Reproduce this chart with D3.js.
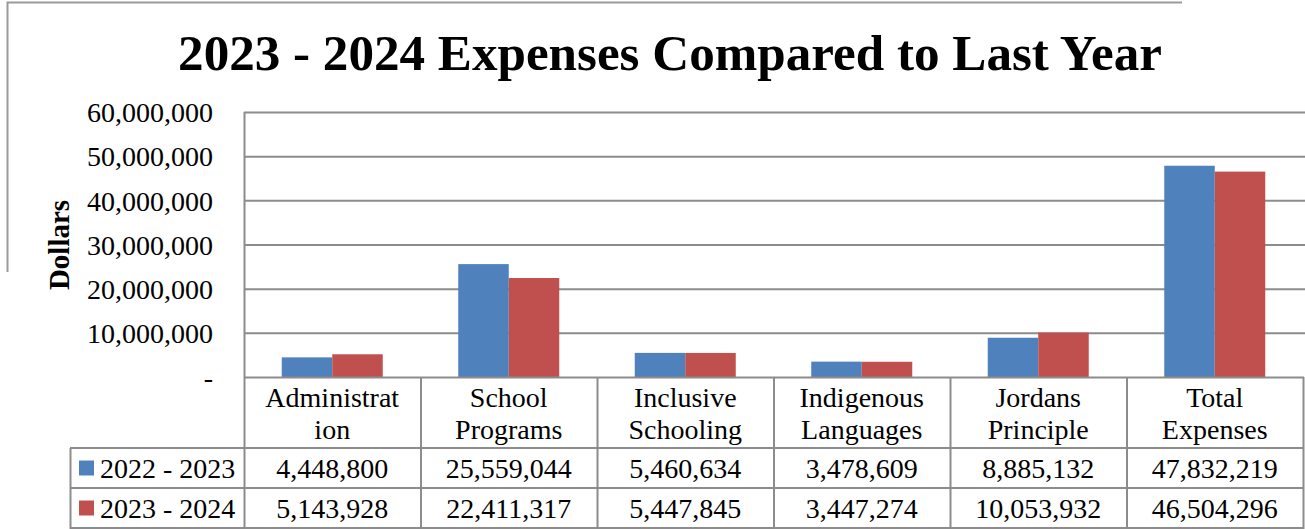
<!DOCTYPE html>
<html>
<head>
<meta charset="utf-8">
<script src="https://cdn.jsdelivr.net/npm/d3@7/dist/d3.min.js"></script>
<style>
  html, body { margin: 0; padding: 0; background: #ffffff; }
  svg { display: block; }
</style>
</head>
<body>
<svg id="chart" width="1305" height="529"></svg>
<script>
// Expense categories and the wrapped header text shown in the data table
const categories = ["Administration", "School Programs", "Inclusive Schooling",
                    "Indigenous Languages", "Jordans Principle", "Total Expenses"];
const categoryLines = [["Administrat", "ion"], ["School", "Programs"], ["Inclusive", "Schooling"],
                       ["Indigenous", "Languages"], ["Jordans", "Principle"], ["Total", "Expenses"]];

// Fiscal year series
const seriesNames = ["2022 - 2023", "2023 - 2024"];
const values2022 = [4448800, 25559044, 5460634, 3478609, 8885132, 47832219];
const values2023 = [5143928, 22411317, 5447845, 3447274, 10053932, 46504296];

// Value axis ticks
const yTicks = [0, 10000000, 20000000, 30000000, 40000000, 50000000, 60000000];

const titleText = "2023 - 2024 Expenses Compared to Last Year";
const yAxisTitle = "Dollars";

const colors = ["#4F81BD", "#C0504D"];
const seriesValues = [values2022, values2023];
const lineGray = "#8c8c8c";
const serif = "'Liberation Serif', 'Times New Roman', serif";

const svg = d3.select("#chart");

// Plot region
const plot = { left: 244, right: 1303, top: 112, bottom: 377 };
const table = { legendLeft: 70, headerBottom: 448, row1Bottom: 488, row2Bottom: 528 };

const x = d3.scaleBand().domain(categories).range([plot.left, plot.right]).paddingInner(0).paddingOuter(0);
const barPair = 101;
const xs = d3.scaleBand().domain(seriesNames).range([0, barPair]);
const y = d3.scaleLinear().domain([0, 60000000]).range([plot.bottom, plot.top]);
const fmt = d3.format(",");

// Outer chart frame (left and top edges)
svg.append("path")
  .attr("d", `M7.5,272 L7.5,2.5 L1182,2.5`)
  .attr("fill", "none").attr("stroke", "#9a9a9a").attr("stroke-width", 2);

// Title, sized to span its measured width
const title = svg.append("text")
  .attr("x", 670).attr("y", 70)
  .attr("text-anchor", "middle")
  .attr("font-family", serif).attr("font-weight", "bold")
  .attr("font-size", 48).attr("fill", "#000")
  .text(titleText);
const tw = title.node().getComputedTextLength();
title.attr("font-size", 48 * 984 / tw);

// Horizontal gridlines
svg.append("g")
  .selectAll("line")
  .data(yTicks.filter(d => d > 0))
  .join("line")
  .attr("x1", plot.left).attr("x2", 1305)
  .attr("y1", d => y(d) + 0.5).attr("y2", d => y(d) + 0.5)
  .attr("stroke", lineGray).attr("stroke-width", 2);

// Value axis using d3.axisLeft, styled to show only labels
const yAxis = d3.axisLeft(y)
  .tickValues(yTicks)
  .tickSize(0)
  .tickPadding(31)
  .tickFormat(d => d === 0 ? "-" : fmt(d));
const yg = svg.append("g").attr("transform", `translate(${plot.left},0)`).call(yAxis);
yg.select(".domain").remove();
yg.selectAll("text")
  .attr("font-family", serif).attr("font-size", 28).attr("fill", "#000")
  .attr("dy", "0.35em");

// Axis title
svg.append("text")
  .attr("transform", `translate(69,245) rotate(-90)`)
  .attr("text-anchor", "middle")
  .attr("font-family", serif).attr("font-weight", "bold")
  .attr("font-size", 29).attr("fill", "#000")
  .text(yAxisTitle);

// Bars
const barData = [];
categories.forEach((c, i) => {
  seriesNames.forEach((s, j) => {
    barData.push({ category: c, series: s, value: seriesValues[j][i], color: colors[j] });
  });
});
svg.append("g")
  .selectAll("rect")
  .data(barData)
  .join("rect")
  .attr("x", d => x(d.category) + (x.bandwidth() - barPair) / 2 + xs(d.series))
  .attr("width", xs.bandwidth())
  .attr("y", d => y(d.value))
  .attr("height", d => y(0) - y(d.value))
  .attr("fill", d => d.color);

// Left plot edge
svg.append("line")
  .attr("x1", plot.left + 0.5).attr("x2", plot.left + 0.5)
  .attr("y1", plot.top).attr("y2", plot.bottom)
  .attr("stroke", lineGray).attr("stroke-width", 2);

// Data table grid
const tg = svg.append("g").attr("fill", "none").attr("stroke", lineGray).attr("stroke-width", 2);
// horizontal rules
tg.append("line").attr("x1", plot.left).attr("x2", plot.right + 1).attr("y1", plot.bottom + 0.5).attr("y2", plot.bottom + 0.5);
[table.headerBottom, table.row1Bottom, table.row2Bottom].forEach(yy => {
  tg.append("line").attr("x1", table.legendLeft).attr("x2", plot.right + 1).attr("y1", yy).attr("y2", yy);
});
// vertical rules at category boundaries
const bounds = categories.map(c => x(c)).concat([plot.right]);
tg.selectAll("line.v")
  .data(bounds)
  .join("line")
  .attr("class", "v")
  .attr("x1", d => d + 0.5).attr("x2", d => d + 0.5)
  .attr("y1", plot.bottom).attr("y2", table.row2Bottom + 1);
tg.append("line")
  .attr("x1", table.legendLeft + 0.5).attr("x2", table.legendLeft + 0.5)
  .attr("y1", table.headerBottom).attr("y2", table.row2Bottom + 1);

// Header text (category names)
const hdr = svg.append("g").attr("font-family", serif).attr("font-size", 28).attr("fill", "#000")
  .attr("text-anchor", "middle");
categories.forEach((c, i) => {
  categoryLines[i].forEach((ln, k) => {
    hdr.append("text")
      .attr("x", x(c) + x.bandwidth() / 2)
      .attr("y", 397 + k * 32)
      .attr("dy", "0.35em")
      .text(ln);
  });
});

// Row values
const rowCenters = [468, 508];
const cells = svg.append("g").attr("font-family", serif).attr("font-size", 28).attr("fill", "#000");
seriesNames.forEach((s, j) => {
  cells.selectAll(null)
    .data(seriesValues[j])
    .join("text")
    .attr("x", (d, i) => x(categories[i]) + x.bandwidth() / 2)
    .attr("y", rowCenters[j])
    .attr("dy", "0.35em")
    .attr("text-anchor", "middle")
    .text(d => fmt(d));
  // legend key + series name
  cells.append("rect")
    .attr("x", 79).attr("y", rowCenters[j] - 7.5)
    .attr("width", 15).attr("height", 15)
    .attr("fill", colors[j]);
  cells.append("text")
    .attr("x", 100).attr("y", rowCenters[j])
    .attr("dy", "0.35em")
    .text(s);
});
</script>
</body>
</html>
